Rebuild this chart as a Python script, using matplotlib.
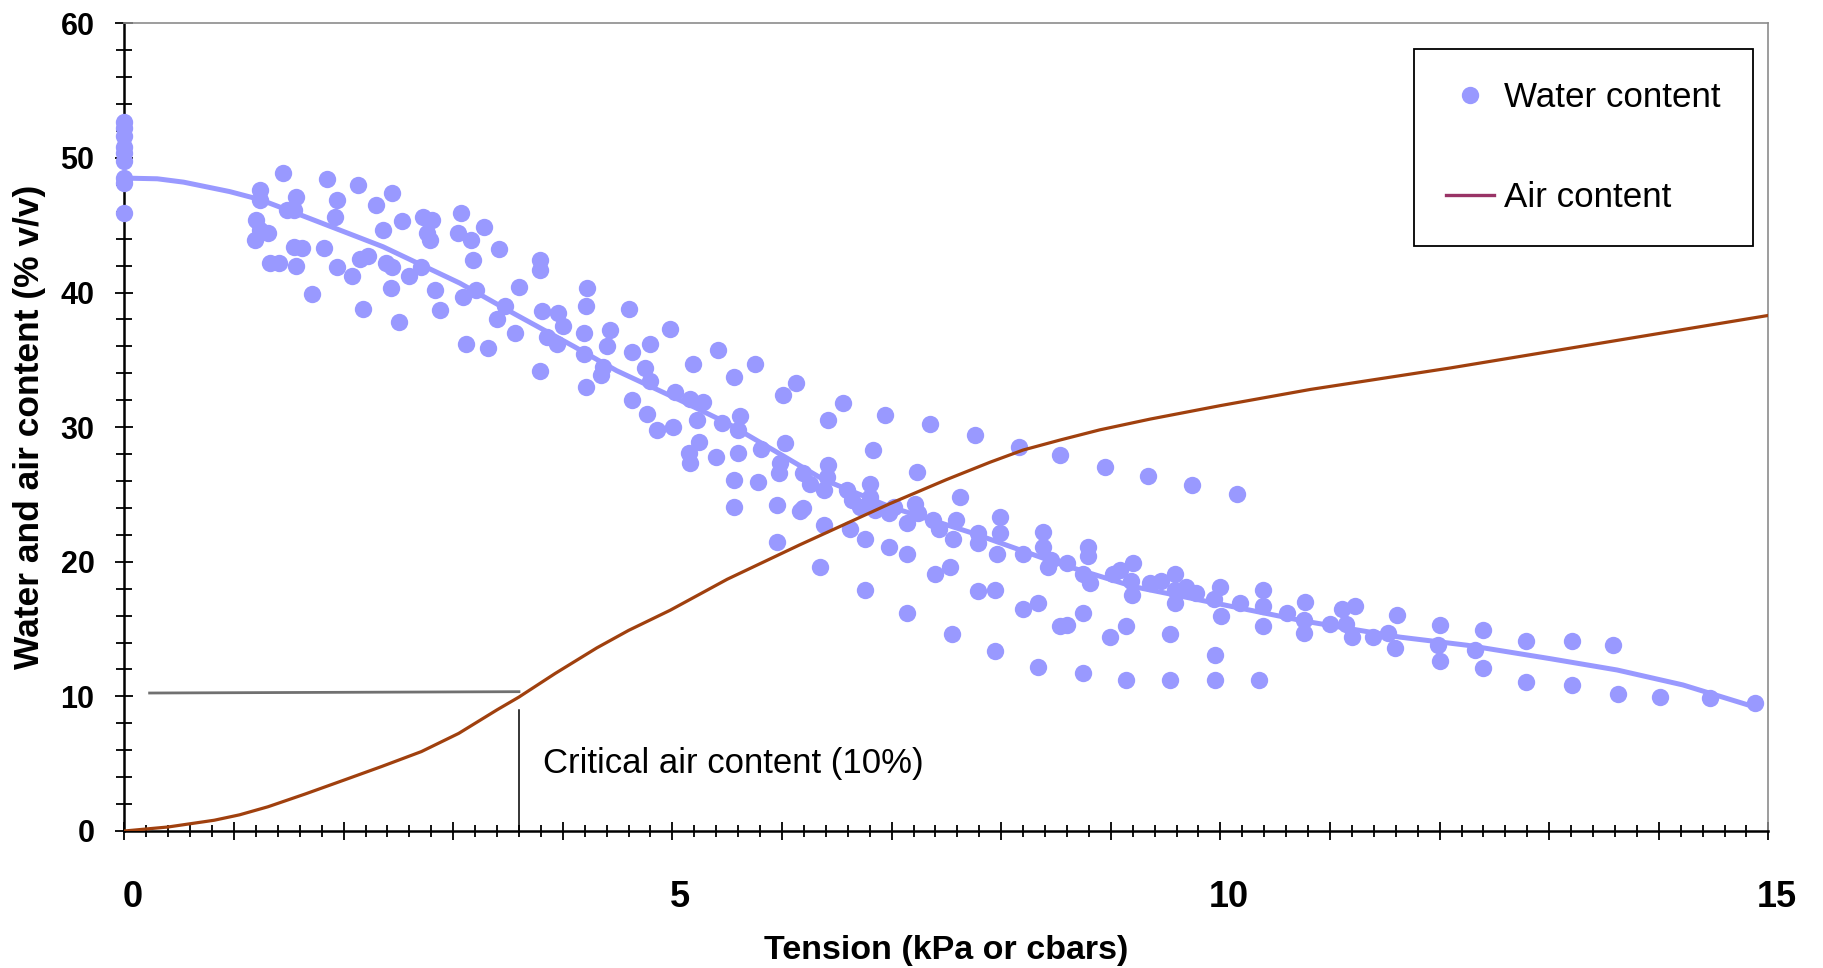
import matplotlib
matplotlib.use("Agg")
import matplotlib.pyplot as plt
import matplotlib.transforms as mtransforms
from matplotlib.lines import Line2D
from matplotlib.ticker import MultipleLocator

plt.rcParams['font.family'] = ['Liberation Sans', 'DejaVu Sans']

# ---------------- data ----------------
water_x = [0, 0, 0, 0, 0, 0, 0, 0, 0,
           1.45, 1.24, 1.24, 1.20, 1.24, 1.19, 1.31, 1.33, 1.41, 1.48, 1.55, 1.57, 1.55, 1.62, 1.57,
           1.71, 1.82, 1.85, 1.94, 1.92, 1.94, 2.08, 2.13, 2.18, 2.15, 2.22, 2.30, 2.36, 2.39, 2.44,
           2.44, 2.43, 2.51, 2.53, 2.60, 2.71, 2.72, 2.76, 2.79, 2.81, 2.83, 2.88, 3.04, 3.07, 3.09,
           3.12, 3.16, 3.18, 3.21, 3.28, 3.32, 3.42, 3.40, 3.47, 3.56, 3.60, 3.79, 3.79, 3.79, 3.81,
           3.86, 3.95, 3.96, 4.00, 4.19, 4.21, 4.22, 4.19, 4.21,
           4.43, 4.40, 4.37, 4.35, 4.60, 4.63, 4.80, 4.98, 4.75, 4.80, 4.63, 4.77, 4.86, 5.01, 5.02,
           5.19, 5.16, 5.28, 5.22, 5.24, 5.15, 5.16, 5.40, 5.42, 5.56, 5.75, 5.45, 5.62, 5.60, 5.60,
           5.81, 5.56, 5.78, 5.56, 5.95, 6.03, 5.98, 5.97, 6.01, 6.13, 5.95, 6.16,
           6.56, 6.42, 6.94, 7.35, 7.76, 8.16, 8.54, 6.83, 7.23, 6.19, 6.26, 6.38, 6.42, 6.41, 6.59,
           6.64, 6.80, 6.80, 6.71, 6.85, 6.98, 7.02, 7.21, 7.24, 7.14, 7.38, 7.43, 7.59, 7.56, 7.62,
           7.79, 7.79, 7.99, 7.99, 7.96, 8.20, 8.38, 8.38, 8.43, 6.19, 6.38, 6.62, 6.76, 6.98, 7.14,
           6.35, 6.76, 7.40, 7.53, 7.14, 7.55, 7.79, 7.94, 7.94, 8.20, 8.34, 8.34, 8.54,
           8.95, 9.34, 9.74, 10.15, 8.45, 8.60, 8.79, 8.79, 8.81, 8.75, 9.02, 9.08, 9.20, 9.19, 9.18,
           9.36, 9.46, 9.59, 9.59, 9.59, 9.69, 9.78, 10.00, 9.94, 10.01, 10.18, 10.39, 10.39, 10.39,
           10.61, 10.77, 10.76, 8.60, 8.75, 8.99, 9.14, 9.54, 9.95, 8.75, 9.14, 9.54, 9.95, 10.35,
           10.76, 11.00, 11.11, 11.23, 11.15, 11.20, 11.39, 11.53, 11.61, 11.59, 12.00, 11.99, 12.00,
           12.40, 12.32, 12.40, 12.79, 12.79,
           13.21, 13.58, 13.21, 13.63, 14.01, 14.47, 14.88]
water_y = [52.7, 52.2, 51.6, 50.8, 50.4, 49.8, 48.5, 48.1, 45.9,
           48.9, 47.6, 46.9, 45.4, 44.65, 43.9, 44.4, 42.2, 42.2, 46.1, 46.1, 47.1, 43.4, 43.3, 42.0,
           39.9, 43.3, 48.4, 46.9, 45.6, 41.9, 41.2, 48.0, 38.8, 42.5, 42.7, 46.5, 44.65, 42.2, 47.4,
           41.9, 40.3, 37.8, 45.3, 41.2, 41.9, 45.6, 44.4, 43.9, 45.4, 40.2, 38.7, 44.4, 45.9, 39.7,
           36.2, 43.9, 42.4, 40.2, 44.9, 35.9, 43.2, 38.0, 39.0, 37.0, 40.4, 42.4, 41.7, 34.2, 38.6,
           36.7, 36.2, 38.5, 37.5, 37.0, 39.0, 40.3, 35.4, 33.0,
           37.2, 36.0, 34.5, 33.9, 38.8, 35.6, 36.2, 37.3, 34.4, 33.4, 32.0, 31.0, 29.8, 30.0, 32.6,
           34.7, 32.1, 31.9, 30.5, 28.9, 28.1, 27.3, 27.8, 35.7, 33.75, 34.7, 30.3, 30.8, 29.8, 28.1,
           28.4, 26.1, 25.95, 24.1, 24.2, 28.8, 27.3, 26.6, 32.4, 33.3, 21.5, 23.8,
           31.8, 30.5, 30.9, 30.2, 29.4, 28.55, 27.9, 28.3, 26.7, 26.6, 25.8, 25.3, 27.2, 26.3, 25.3,
           24.6, 25.8, 24.8, 24.1, 23.85, 23.6, 24.1, 24.3, 23.6, 22.9, 23.1, 22.4, 23.1, 21.7, 24.8,
           22.1, 21.4, 23.35, 22.1, 20.6, 20.6, 22.2, 21.1, 19.6, 24.0, 22.7, 22.4, 21.7, 21.1, 20.6,
           19.6, 17.9, 19.1, 19.6, 16.2, 14.6, 17.8, 17.9, 13.4, 16.5, 16.9, 12.2, 15.2,
           27.05, 26.4, 25.7, 25.0, 20.1, 19.9, 21.1, 20.4, 18.4, 19.1, 19.1, 19.4, 19.9, 17.5, 18.6,
           18.4, 18.6, 19.1, 17.9, 16.9, 18.1, 17.7, 18.1, 17.2, 16.0, 16.9, 17.9, 16.7, 15.2,
           16.2, 17.0, 14.7, 15.3, 16.2, 14.4, 15.2, 14.6, 13.1, 11.7, 11.2, 11.2, 11.2, 11.2,
           15.7, 15.4, 16.5, 16.7, 15.4, 14.4, 14.4, 14.7, 16.05, 13.6, 15.3, 13.8, 12.6,
           14.9, 13.45, 12.1, 14.1, 11.1,
           14.1, 13.8, 10.85, 10.2, 9.98, 9.86, 9.5]

fit_x = [0, 0.30, 0.54, 0.96, 1.24, 1.66, 2.36, 3.06, 3.54, 4.10, 4.49, 5.07, 5.50, 5.92, 6.38,
         6.98, 7.75, 8.51, 9.21, 9.97, 10.76, 11.64, 12.25, 13.01, 13.62, 14.22, 14.88]
fit_y = [48.5, 48.45, 48.2, 47.5, 46.9, 45.6, 43.4, 40.7, 38.5, 36.0, 34.2, 32.0, 30.3, 28.3, 26.1,
         24.1, 22.1, 19.9, 18.15, 16.9, 15.6, 14.4, 13.8, 12.8, 11.96, 10.85, 9.2]

air_x = [0, 0.40, 0.82, 1.05, 1.31, 1.65, 2.01, 2.35, 2.71, 3.05, 3.40, 3.60, 3.93, 4.31, 4.60,
         4.98, 5.50, 6.16, 6.98, 7.50, 7.90, 8.20, 8.54, 8.90, 9.36, 10.00, 10.82, 12.10, 15.0]
air_y = [0, 0.3, 0.8, 1.2, 1.8, 2.75, 3.8, 4.8, 5.9, 7.25, 9.0, 9.95, 11.7, 13.6, 14.9,
         16.4, 18.7, 21.25, 24.3, 26.1, 27.4, 28.3, 29.05, 29.8, 30.6, 31.6, 32.8, 34.4, 38.3]

crit_h_x = [0.23, 3.6]
crit_h_y = [10.25, 10.35]
crit_v_x = [3.6, 3.6]
crit_v_y = [0, 9.0]
crit_label = "Critical air content (10%)"
crit_label_pos = (3.82, 5.0)

x_major = list(range(0, 16))
x_labels = [str(v) if v % 5 == 0 else "" for v in x_major]
y_major = [0, 10, 20, 30, 40, 50, 60]
y_labels = [str(v) for v in y_major]

series_names = ["Water content", "Air content"]
x_title = "Tension (kPa or cbars)"
y_title = "Water and air content (% v/v)"

WATER = "#9999FF"
AIR = "#A0400E"
AIR_LEGEND = "#993366"

# ---------------- figure ----------------
fig = plt.figure(figsize=(18.23, 9.68), dpi=100)
ax = fig.add_axes([0.06824, 0.14153, 0.9018, 0.8344])

ax.plot(water_x, water_y, linestyle="none", marker="o", ms=12.5, color=WATER,
        mec="none", zorder=3, clip_on=False)
ax.plot(fit_x, fit_y, color=WATER, lw=3.6, zorder=3, solid_capstyle="butt",
        solid_joinstyle="round")
ax.plot(air_x, air_y, color=AIR, lw=2.3, zorder=4, solid_joinstyle="round")

ax.plot(crit_h_x, crit_h_y, color="#707070", lw=2.0, zorder=2)
ax.plot(crit_v_x, crit_v_y, color="black", lw=1.1, zorder=2)
ax.text(crit_label_pos[0], crit_label_pos[1], crit_label, fontsize=25,
        ha="left", va="center", color="black")

ax.set_xlim(0, 15)
ax.set_ylim(0, 60)

ax.set_xticks(x_major)
ax.set_xticklabels(x_labels)
ax.xaxis.set_minor_locator(MultipleLocator(0.2))
ax.set_yticks(y_major)
ax.set_yticklabels(y_labels)
ax.yaxis.set_minor_locator(MultipleLocator(2))

ax.tick_params(axis="x", which="major", direction="inout", length=13, width=1.3,
               pad=29, labelsize=26)
ax.tick_params(axis="x", which="minor", direction="inout", length=8.5, width=1.3)
ax.tick_params(axis="y", which="major", direction="inout", length=13, width=1.3,
               pad=15, labelsize=22)
ax.tick_params(axis="y", which="minor", direction="inout", length=11, width=1.3)
for lbl in ax.get_xticklabels() + ax.get_yticklabels():
    lbl.set_fontweight("bold")
offset = mtransforms.ScaledTranslation(0.08, 0, fig.dpi_scale_trans)
for lbl in ax.get_xticklabels():
    lbl.set_transform(lbl.get_transform() + offset)

for side in ["left", "bottom"]:
    ax.spines[side].set_color("black")
    ax.spines[side].set_linewidth(1.8)
for side in ["top", "right"]:
    ax.spines[side].set_color("#8c8c8c")
    ax.spines[side].set_linewidth(1.2)

ax.set_xlabel(x_title, fontsize=24.5, fontweight="bold", va="center")
ax.xaxis.set_label_coords(0.5, -0.1485)
ax.set_ylabel(y_title, fontsize=25.5, fontweight="bold", va="center")
ax.yaxis.set_label_coords(-0.058, 0.5)

handles = [
    Line2D([], [], linestyle="none", marker="o", ms=12.5, color=WATER, mec="none"),
    Line2D([], [], color=AIR_LEGEND, lw=2.4),
]
leg = ax.legend(handles, series_names, loc="upper left", bbox_to_anchor=(0.7845, 0.968),
                fontsize=25.2, frameon=True, fancybox=False, framealpha=1,
                edgecolor="black", borderpad=0.92, labelspacing=1.9,
                handlelength=1.35, handletextpad=0.3, borderaxespad=0)
leg.get_frame().set_linewidth(1.3)

fig.savefig("out.png", dpi=100)
